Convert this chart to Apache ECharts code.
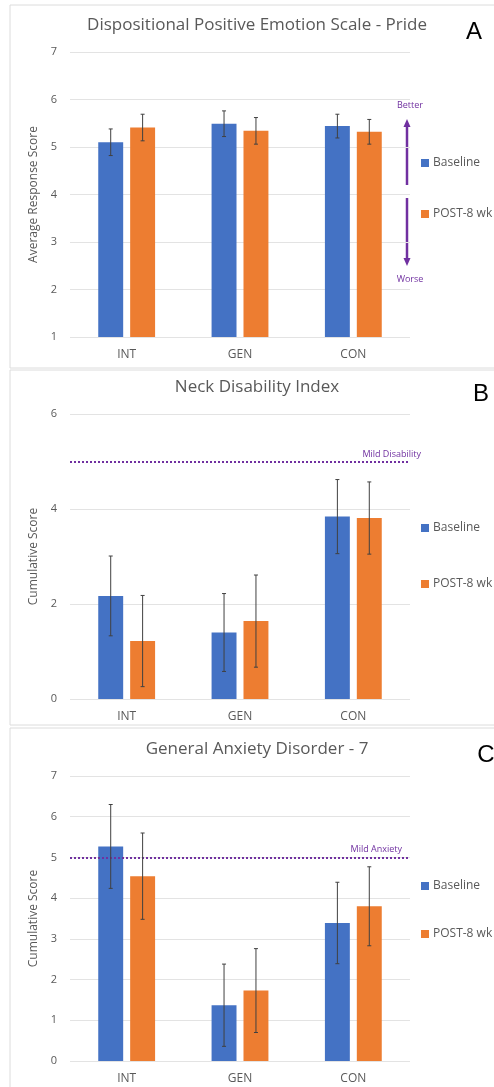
<!DOCTYPE html>
<html><head><meta charset="utf-8">
<script src="https://cdn.jsdelivr.net/npm/echarts@6/dist/echarts.min.js"></script>
<style>html,body{margin:0;padding:0;background:#fff}#c{width:494px;height:1087px}</style>
</head><body><div id="c"></div>
<script>
const categories = ['INT', 'GEN', 'CON'];
const seriesNames = ['Baseline', 'POST-8 wk'];

const prideBaseline = [5.10, 5.49, 5.44];
const prideBaselineErr = [0.28, 0.27, 0.25];
const pridePost = [5.41, 5.34, 5.32];
const pridePostErr = [0.28, 0.28, 0.26];

const ndiBaseline = [2.17, 1.40, 3.84];
const ndiBaselineErr = [0.84, 0.82, 0.78];
const ndiPost = [1.22, 1.64, 3.81];
const ndiPostErr = [0.96, 0.97, 0.76];

const gadBaseline = [5.27, 1.37, 3.39];
const gadBaselineErr = [1.03, 1.01, 1.00];
const gadPost = [4.54, 1.73, 3.80];
const gadPostErr = [1.06, 1.03, 0.97];

const mildDisability = 5;
const mildAnxiety = 5;

const panelTitles = ['Dispositional Positive Emotion Scale - Pride', 'Neck Disability Index', 'General Anxiety Disorder - 7'];
const panelLetters = ['A', 'B', 'C'];
const yNames = ['Average Response Score', 'Cumulative Score', 'Cumulative Score'];
const yMin = [1, 0, 0], yMax = [7, 6, 7], yInterval = [1, 2, 1];

const BLUE = '#4472C4', ORANGE = '#ED7D31', PURPLE = '#7030A0', TXT = '#595959';
const FONT = '"Open Sans", sans-serif';
const gridTops = [52, 414, 776];
const gridH = 285;
const BARW = 0.22, GAP = 0.28;
const OFF = BARW * (1 + GAP) / 2;

function errRender(sign) {
  return function (params, api) {
    const i = api.value(0), v = api.value(1), e = api.value(2);
    const bw = api.size([1, 0])[0];
    const x = api.coord([i, v])[0] + sign * bw * OFF;
    const t = api.coord([i, v + e])[1];
    const b = api.coord([i, v - e])[1];
    const st = { stroke: '#404040', lineWidth: 1 };
    return { type: 'group', children: [
      { type: 'line', shape: { x1: x, y1: t, x2: x, y2: b }, style: st },
      { type: 'line', shape: { x1: x - 2, y1: t, x2: x + 2, y2: t }, style: st },
      { type: 'line', shape: { x1: x - 2, y1: b, x2: x + 2, y2: b }, style: st }
    ]};
  };
}

const panels = [
  [prideBaseline, prideBaselineErr, pridePost, pridePostErr, null],
  [ndiBaseline, ndiBaselineErr, ndiPost, ndiPostErr, { v: mildDisability, t: 'Mild Disability', d: -11 }],
  [gadBaseline, gadBaselineErr, gadPost, gadPostErr, { v: mildAnxiety, t: 'Mild Anxiety', d: 8 }]
];

const grid = [], xAxis = [], yAxis = [], series = [], title = [], legend = [];
panels.forEach((p, k) => {
  grid.push({ left: 70, right: 84, top: gridTops[k], height: gridH });
  xAxis.push({ type: 'category', gridIndex: k, data: categories,
    axisLine: { show: false }, axisTick: { show: false },
    axisLabel: { color: TXT, fontSize: 12, fontFamily: FONT, margin: 12 } });
  yAxis.push({ type: 'value', gridIndex: k, min: yMin[k], max: yMax[k], interval: yInterval[k],
    name: yNames[k], nameLocation: 'middle', nameGap: 22,
    nameTextStyle: { color: TXT, fontSize: 12, fontFamily: FONT },
    axisLabel: { color: TXT, fontSize: 11, fontFamily: FONT, margin: 13 },
    splitLine: { lineStyle: { color: '#e3e3e3', width: 1 } } });
  title.push({ text: panelTitles[k], left: 257, textAlign: 'center', top: gridTops[k] - 38, padding: 0,
    textStyle: { color: TXT, fontSize: 17, fontWeight: 'normal', fontFamily: FONT, lineHeight: 22 } });
  const mk = p[4] ? {
    silent: true, symbol: 'none',
    lineStyle: { color: PURPLE, type: [2, 2], width: 2 },
    label: { position: 'insideEndTop', formatter: p[4].t, color: PURPLE, fontSize: 9, fontFamily: FONT, distance: [p[4].d, 3] },
    data: [{ yAxis: p[4].v }]
  } : undefined;
  series.push({ name: seriesNames[0], type: 'bar', xAxisIndex: k, yAxisIndex: k, data: p[0],
    barWidth: (BARW * 100) + '%', barGap: (GAP * 100) + '%', itemStyle: { color: BLUE }, markLine: mk });
  series.push({ name: seriesNames[1], type: 'bar', xAxisIndex: k, yAxisIndex: k, data: p[2],
    barWidth: (BARW * 100) + '%', barGap: (GAP * 100) + '%', itemStyle: { color: ORANGE } });
  series.push({ type: 'custom', xAxisIndex: k, yAxisIndex: k, renderItem: errRender(-1), z: 5,
    data: p[0].map((v, i) => [i, v, p[1][i]]), encode: { x: 0, y: 1 } });
  series.push({ type: 'custom', xAxisIndex: k, yAxisIndex: k, renderItem: errRender(1), z: 5,
    data: p[2].map((v, i) => [i, v, p[3][i]]), encode: { x: 0, y: 1 } });
});

// legends: item centers per panel
const legendY = [[164, 215], [529, 585], [887, 935]];
legendY.forEach(pair => {
  pair.forEach((y, j) => {
    legend.push({ data: [seriesNames[j]], left: 421, top: y - 7, orient: 'vertical', padding: 0,
      itemWidth: 8, itemHeight: 8, itemGap: 4, icon: 'rect', selectedMode: false,
      textStyle: { color: TXT, fontSize: 12, fontFamily: FONT, padding: [0, 0, 0, -1] } });
  });
});

const graphic = [
  { type: 'rect', shape: { x: 10, y: 5, width: 500, height: 363 }, style: { fill: 'none', stroke: '#dcdcdc', lineWidth: 1 }, z: -1 },
  { type: 'rect', shape: { x: 10, y: 370, width: 500, height: 355 }, style: { fill: 'none', stroke: '#dcdcdc', lineWidth: 1 }, z: -1 },
  { type: 'rect', shape: { x: 10, y: 728, width: 500, height: 365 }, style: { fill: 'none', stroke: '#dcdcdc', lineWidth: 1 }, z: -1 },
  { type: 'text', x: 474, y: 32, style: { text: panelLetters[0], fill: '#000', fontSize: 24, fontFamily: '"Liberation Sans", sans-serif', align: 'center', verticalAlign: 'middle' } },
  { type: 'text', x: 481, y: 394, style: { text: panelLetters[1], fill: '#000', fontSize: 24, fontFamily: '"Liberation Sans", sans-serif', align: 'center', verticalAlign: 'middle' } },
  { type: 'text', x: 486, y: 755, style: { text: panelLetters[2], fill: '#000', fontSize: 24, fontFamily: '"Liberation Sans", sans-serif', align: 'center', verticalAlign: 'middle' } },
  // better / worse arrows
  { type: 'line', shape: { x1: 407, y1: 185, x2: 407, y2: 124 }, style: { stroke: PURPLE, lineWidth: 2.5 } },
  { type: 'polygon', shape: { points: [[407, 119], [403.5, 127], [410.5, 127]] }, style: { fill: PURPLE } },
  { type: 'line', shape: { x1: 407, y1: 198, x2: 407, y2: 261 }, style: { stroke: PURPLE, lineWidth: 2.5 } },
  { type: 'polygon', shape: { points: [[407, 266], [403.5, 258], [410.5, 258]] }, style: { fill: PURPLE } },
  { type: 'text', x: 410, y: 105, style: { text: 'Better', fill: PURPLE, fontSize: 9, fontFamily: FONT, align: 'center', verticalAlign: 'middle' } },
  { type: 'text', x: 410, y: 279, style: { text: 'Worse', fill: PURPLE, fontSize: 9, fontFamily: FONT, align: 'center', verticalAlign: 'middle' } }
];

const chart = echarts.init(document.getElementById('c'), null, { renderer: 'canvas' });
chart.setOption({ animation: false, backgroundColor: '#fff', title, legend, grid, xAxis, yAxis, series, graphic });
</script>
</body></html>
